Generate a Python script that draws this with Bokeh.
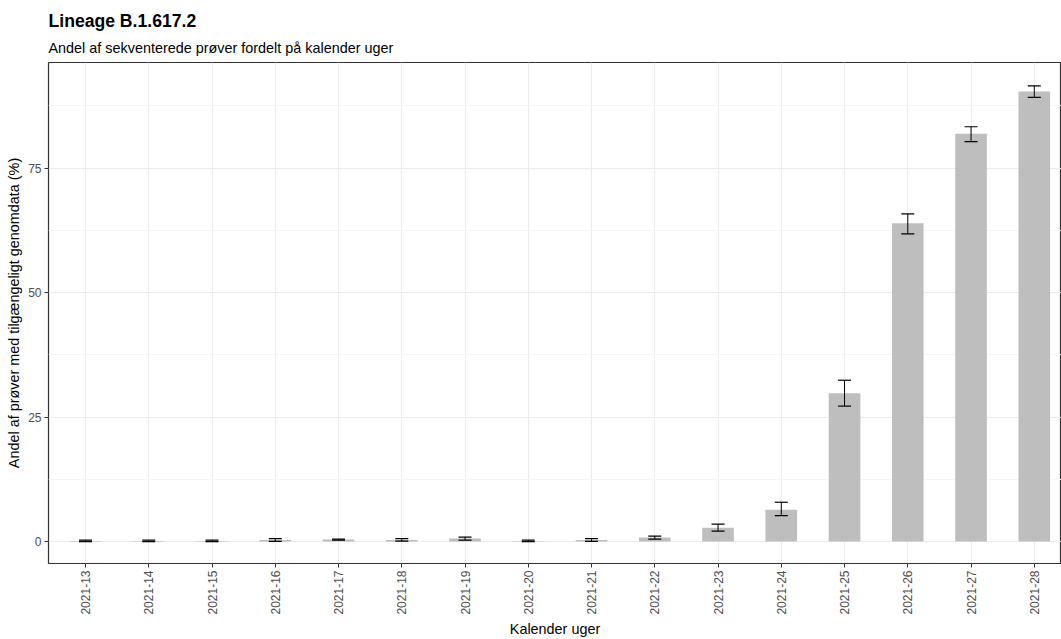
import math
from bokeh.plotting import figure
from bokeh.models import ColumnDataSource, Range1d, FixedTicker, Whisker, TeeHead, Title
from bokeh.embed import file_html
from bokeh.resources import INLINE

# ---- data ----
weeks = ["2021-13", "2021-14", "2021-15", "2021-16", "2021-17", "2021-18", "2021-19", "2021-20",
         "2021-21", "2021-22", "2021-23", "2021-24", "2021-25", "2021-26", "2021-27", "2021-28"]
share = [0.1, 0.1, 0.1, 0.3, 0.4, 0.3, 0.6, 0.1, 0.3, 0.8, 2.8, 6.4, 29.8, 63.9, 81.9, 90.4]
lower = [0.0, 0.0, 0.0, 0.05, 0.3, 0.1, 0.3, 0.0, 0.05, 0.5, 2.1, 5.2, 27.2, 61.8, 80.3, 89.2]
upper = [0.3, 0.3, 0.3, 0.6, 0.5, 0.6, 0.9, 0.3, 0.6, 1.1, 3.5, 7.9, 32.4, 65.8, 83.3, 91.5]
y_ticks = [0, 25, 50, 75]
y_minor = [12.5, 37.5, 62.5, 87.5]

title = "Lineage B.1.617.2"
subtitle = "Andel af sekventerede prøver fordelt på kalender uger"
x_title = "Kalender uger"
y_title = "Andel af prøver med tilgængeligt genomdata (%)"

FONT = "Liberation Sans"

pos = list(range(len(weeks)))
src = ColumnDataSource(dict(x=pos, share=share, lower=lower, upper=upper))

p = figure(width=1061, height=639, output_backend="svg", toolbar_location=None,
           x_range=Range1d(-0.585, len(weeks) - 1 + 0.43), y_range=Range1d(-4.4, 96.2),
           min_border_left=48, min_border_right=0, min_border_top=0, min_border_bottom=0)

p.add_layout(Title(text=subtitle, text_font=FONT, text_font_size="14.4px",
                   text_font_style="normal", text_color="black", align="left", standoff=13), "above")
p.add_layout(Title(text=title, text_font=FONT, text_font_size="17.6px",
                   text_font_style="bold", text_color="black", align="left", standoff=2), "above")
p.add_layout(Title(text=" ", text_font=FONT, text_font_size="4px", standoff=0), "above")

p.vbar(x="x", top="share", bottom=0, width=0.5, source=src,
       fill_color="#BEBEBE", line_color=None)

w = Whisker(base="x", upper="upper", lower="lower", source=src, level="overlay",
            line_color="black", line_width=1,
            upper_head=TeeHead(size=13, line_color="black", line_width=1.2),
            lower_head=TeeHead(size=13, line_color="black", line_width=1.2))
p.add_layout(w)

# frame
p.outline_line_color = "#333333"
p.outline_line_width = 1.2
p.background_fill_color = "white"
p.border_fill_color = "white"

# grids
p.xgrid.grid_line_color = "#EBEBEB"
p.ygrid.grid_line_color = "#EBEBEB"
p.ygrid.minor_grid_line_color = "#F5F5F5"
p.xgrid.grid_line_width = 1
p.ygrid.grid_line_width = 1

# axes
p.xaxis.ticker = FixedTicker(ticks=pos)
p.xaxis.major_label_overrides = {i: w_ for i, w_ in enumerate(weeks)}
p.xaxis.major_label_orientation = math.pi / 2
p.yaxis.ticker = FixedTicker(ticks=y_ticks, minor_ticks=y_minor)

for ax in (p.xaxis[0], p.yaxis[0]):
    ax.axis_line_color = None
    ax.major_tick_line_color = "#333333"
    ax.major_tick_out = 4
    ax.major_tick_in = 0
    ax.minor_tick_out = 0
    ax.minor_tick_in = 0
    ax.major_label_text_font = FONT
    ax.major_label_text_font_size = "12px"
    ax.major_label_text_color = "#4D4D4D"
    ax.major_label_standoff = 3
    ax.axis_label_text_font = FONT
    ax.axis_label_text_font_size = "14.4px"
    ax.axis_label_text_font_style = "normal"
    ax.axis_label_text_color = "black"
    ax.axis_label_standoff = 3

p.xaxis.axis_label = x_title
p.yaxis.axis_label = y_title

open("out.html", "w").write(file_html(p, INLINE))
